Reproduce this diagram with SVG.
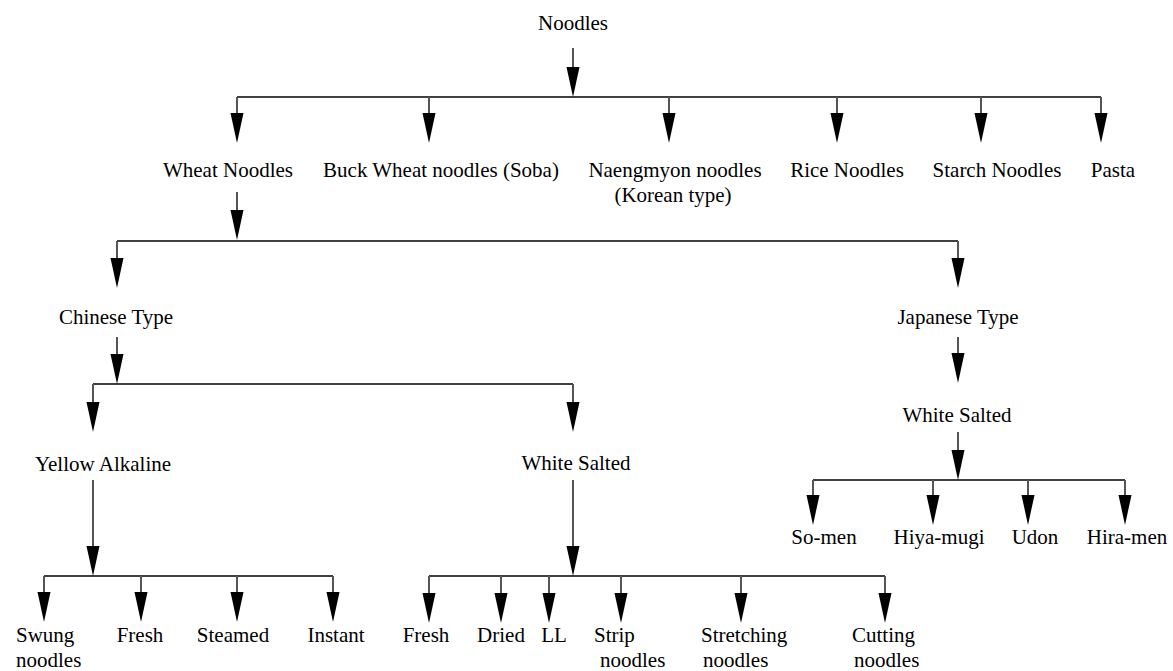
<svg xmlns="http://www.w3.org/2000/svg" xmlns:xlink="http://www.w3.org/1999/xlink" width="1173" height="671" viewBox="0 0 1173 671">
<style>
text{font-family:"Liberation Serif","Times New Roman",serif;font-size:21px;fill:#000;text-anchor:middle}
.s{text-anchor:start}
.v{stroke:#555;stroke-width:2;fill:none}
.h{stroke:#000;stroke-width:1.6;fill:none}
</style>
<defs>
<path id="ah" d="M-6.5,-30 L6.5,-30 L0,0 Z" fill="#000"/>
</defs>
<rect width="1173" height="671" fill="#fff"/>
<g id="connectors">
<path class="v" d="M573,48V70"/><use xlink:href="#ah" x="573" y="97"/>
<path class="h" d="M237,97H1101"/>
<path class="v" d="M237,97V115M429,97V115M669,97V115M837,97V115M981,97V115M1101,97V115"/>
<use xlink:href="#ah" x="237" y="143"/><use xlink:href="#ah" x="429" y="143"/><use xlink:href="#ah" x="669" y="143"/><use xlink:href="#ah" x="837" y="143"/><use xlink:href="#ah" x="981" y="143"/><use xlink:href="#ah" x="1101" y="143"/>
<path class="v" d="M237,192V212"/><use xlink:href="#ah" x="237" y="240"/>
<path class="h" d="M117,241H958"/>
<path class="v" d="M117,241V259M958,241V259"/>
<use xlink:href="#ah" x="117" y="288"/><use xlink:href="#ah" x="958" y="288"/>
<path class="v" d="M117,337V356"/><use xlink:href="#ah" x="117" y="384"/>
<path class="h" d="M93,384H573"/>
<path class="v" d="M93,384V404M573,384V404"/>
<use xlink:href="#ah" x="93" y="432"/><use xlink:href="#ah" x="573" y="432"/>
<path class="v" d="M958,337V355"/><use xlink:href="#ah" x="958" y="383"/>
<path class="v" d="M958,432V452"/><use xlink:href="#ah" x="958" y="480"/>
<path class="h" d="M813,480H1125"/>
<path class="v" d="M813,480V497M933,480V497M1028,480V497M1125,480V497"/>
<use xlink:href="#ah" x="813" y="525"/><use xlink:href="#ah" x="933" y="525"/><use xlink:href="#ah" x="1028" y="525"/><use xlink:href="#ah" x="1125" y="525"/>
<path class="v" d="M93,480V548"/><use xlink:href="#ah" x="93" y="576"/>
<path class="h" d="M44,576H333"/>
<path class="v" d="M44,576V594M141,576V594M237,576V594M333,576V594"/>
<use xlink:href="#ah" x="44" y="622"/><use xlink:href="#ah" x="141" y="622"/><use xlink:href="#ah" x="237" y="622"/><use xlink:href="#ah" x="333" y="622"/>
<path class="v" d="M573,480V548"/><use xlink:href="#ah" x="573" y="576"/>
<path class="h" d="M429,576H885"/>
<path class="v" d="M429,576V594M501,576V594M549,576V594M621,576V594M741,576V594M885,576V594"/>
<use xlink:href="#ah" x="429" y="623"/><use xlink:href="#ah" x="501" y="623"/><use xlink:href="#ah" x="549" y="623"/><use xlink:href="#ah" x="621" y="623"/><use xlink:href="#ah" x="741" y="623"/><use xlink:href="#ah" x="885" y="623"/>
</g>
<g id="n-noodles"><text x="573" y="30">Noodles</text></g>
<g id="n-wheat"><text x="228" y="177">Wheat Noodles</text></g>
<g id="n-buck"><text x="441" y="177">Buck Wheat noodles (Soba)</text></g>
<g id="n-naeng"><text x="675" y="177">Naengmyon noodles</text><text x="673" y="202">(Korean type)</text></g>
<g id="n-rice"><text x="847" y="177">Rice Noodles</text></g>
<g id="n-starch"><text x="997" y="177">Starch Noodles</text></g>
<g id="n-pasta"><text x="1113" y="177">Pasta</text></g>
<g id="n-chinese"><text x="116" y="324">Chinese Type</text></g>
<g id="n-japanese"><text x="958" y="324">Japanese Type</text></g>
<g id="n-yellow"><text x="103" y="471">Yellow Alkaline</text></g>
<g id="n-cws"><text x="576" y="470">White Salted</text></g>
<g id="n-jws"><text x="957" y="422">White Salted</text></g>
<g id="n-somen"><text x="824" y="544">So-men</text></g>
<g id="n-hiya"><text x="939" y="544">Hiya-mugi</text></g>
<g id="n-udon"><text x="1035" y="544">Udon</text></g>
<g id="n-hira"><text x="1127" y="544">Hira-men</text></g>
<g id="n-swung"><text class="s" x="16" y="642">Swung</text><text class="s" x="16" y="667">noodles</text></g>
<g id="n-yfresh"><text x="140" y="642">Fresh</text></g>
<g id="n-steamed"><text x="233" y="642">Steamed</text></g>
<g id="n-instant"><text x="336" y="642">Instant</text></g>
<g id="n-wfresh"><text x="426" y="642">Fresh</text></g>
<g id="n-dried"><text x="501" y="642">Dried</text></g>
<g id="n-ll"><text x="554" y="642">LL</text></g>
<g id="n-strip"><text class="s" x="594" y="642">Strip</text><text class="s" x="600" y="667">noodles</text></g>
<g id="n-stretch"><text class="s" x="701" y="642">Stretching</text><text class="s" x="703" y="667">noodles</text></g>
<g id="n-cutting"><text class="s" x="852" y="642">Cutting</text><text class="s" x="854" y="667">noodles</text></g>
</svg>
